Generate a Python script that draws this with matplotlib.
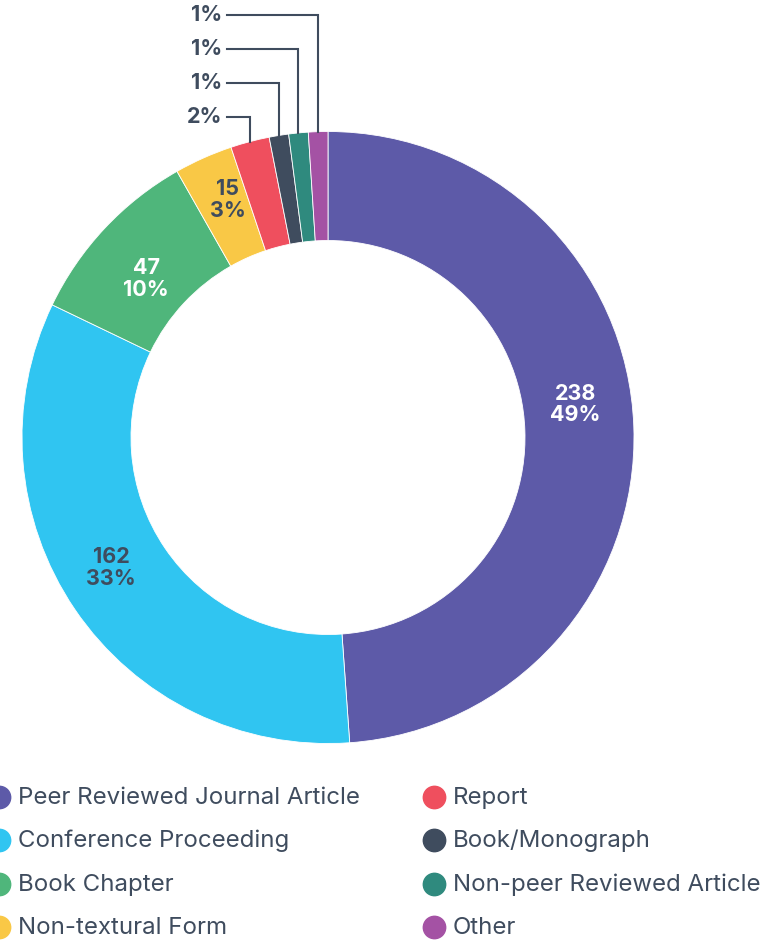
import matplotlib.pyplot as plt
import numpy as np

# data
categories = ['Peer Reviewed Journal Article', 'Conference Proceeding', 'Book Chapter',
              'Non-textural Form', 'Report', 'Book/Monograph', 'Non-peer Reviewed Article', 'Other']
counts = [238, 162, 47, 15, 10, 5, 5, 5]
colors = ['#5D5AA8', '#30C5F1', '#4FB67B', '#F9C846', '#EF4F5E', '#3F4C5E', '#2F8A7E', '#A452A4']
inside_text = ['white', '#3F4C5E', 'white', '#3F4C5E']  # label colours for the big slices
# small nudges (px, screen y down) so the inside labels sit like the original
nudge = [(-4, -24), (-9, -11), (2, 13), (2, -8)]

dark = '#3F4C5E'
plt.rcParams['font.family'] = ['Inter', 'DejaVu Sans']

W, H = 782, 942
fig = plt.figure(figsize=(W / 100, H / 100), dpi=100)
ax = fig.add_axes([0, 0, 1, 1])

cx, cy = 328, H - 437.5
R, r_in = 306, 197

wedges, _ = ax.pie(counts, colors=colors, startangle=90, counterclock=False,
                   center=(cx, cy), radius=R, frame=True,
                   wedgeprops=dict(width=R - r_in, edgecolor='white', linewidth=0.6))
ax.set_xlim(0, W)
ax.set_ylim(0, H)
ax.set_aspect('equal')
ax.axis('off')

total = sum(counts)
pcts = [round(c / total * 100) for c in counts]

# labels inside the ring for the big slices
rm = (R + r_in) / 2
for i, w in enumerate(wedges[:4]):
    ang = np.deg2rad((w.theta1 + w.theta2) / 2)
    x = cx + rm * np.cos(ang) + nudge[i][0]
    y = cy + rm * np.sin(ang) - nudge[i][1]
    ax.text(x, y, f'{counts[i]}\n{pcts[i]}%', ha='center', va='center', fontsize=15.5,
            fontweight='bold', color=inside_text[i], linespacing=1.1)

# leader labels for the small slices
label_y = [H - 117, H - 83, H - 49, H - 15]
for i, w in enumerate(wedges[4:]):
    ang = np.deg2rad((w.theta1 + w.theta2) / 2)
    x0 = cx + R * np.cos(ang)
    y0 = cy + R * np.sin(ang)
    ly = label_y[i]
    ax.plot([x0, x0, 227], [y0, ly, ly], color=dark, lw=1.5, solid_joinstyle='miter')
    ax.text(222, ly, f'{pcts[i + 4]}%', ha='right', va='center', fontsize=15.5,
            fontweight='bold', color=dark)

# legend, two columns
row_y = [H - 797, H - 840, H - 884, H - 927]
col_x = [-1, 434]
for i, name in enumerate(categories):
    col, row = divmod(i, 4)
    ax.scatter(col_x[col], row_y[row], s=260, color=colors[i], clip_on=False, zorder=3)
    ax.text(col_x[col] + 19, row_y[row] - 1, name, ha='left', va='center', fontsize=17.3, color=dark)

fig.savefig('out.png', dpi=100)
